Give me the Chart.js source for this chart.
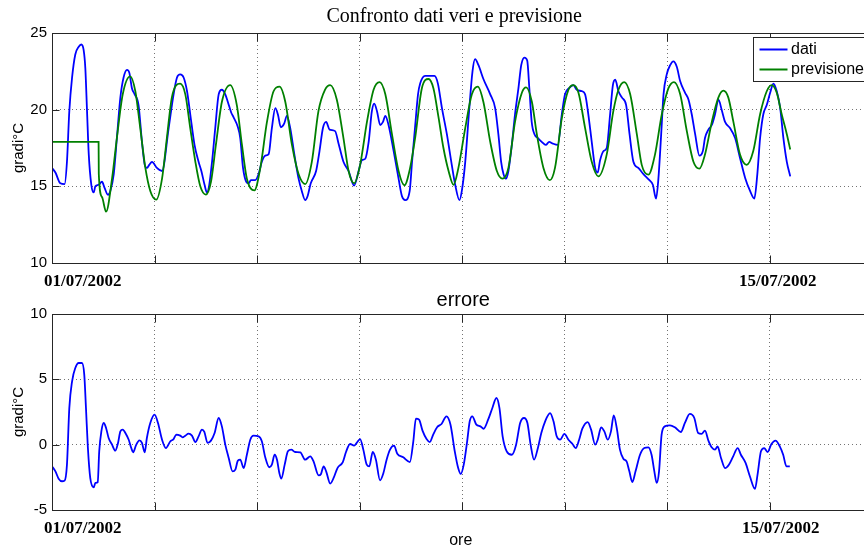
<!DOCTYPE html>
<html>
<head>
<meta charset="utf-8">
<script src="https://cdn.jsdelivr.net/npm/chart.js@4.4.1/dist/chart.umd.min.js"></script>
<style>
  body { margin: 0; width: 864px; height: 549px; overflow: hidden; background: #fff; position: relative; }
  canvas { position: absolute; left: 0; }
</style>
</head>
<body>
<canvas id="graficoTemp" width="880" height="290" style="top:0"></canvas>
<canvas id="graficoErr" width="880" height="259" style="top:290px"></canvas>
<script>
// ore dall'inizio del 01/07/2002 e temperature misurate (gradi C)
const oreDati = [0, 1.6, 3.9, 5.9, 7.0, 8.1, 9.4, 10.9, 12.5, 13.7, 14.8, 15.6, 16.4, 17.2, 18.4, 19.5, 20.3, 21.8, 23.4, 24.6,
  26.2, 27.3, 28.9, 30.4, 32.0, 33.5, 35.1, 36.2, 37.4, 38.7, 40.5, 42.1, 43.4, 44.4, 45.5, 46.8, 49.1, 51.5, 54.6, 56.9,
  58.5, 60.0, 61.6, 63.2, 64.7, 66.7, 68.6, 69.9, 71.4, 72.5, 73.6, 74.9, 76.4, 78.0, 79.5, 81.1, 82.3, 83.9, 85.0, 86.9,
  88.1, 89.4, 90.9, 92.0, 93.1, 95.1, 96.7, 98.2, 99.8, 101.4, 102.9, 104.5, 105.7, 107.1, 108.7, 109.9, 111.5, 113.4, 115.4, 116.9,
  118.5, 119.6, 121.1, 123.6, 125.2, 126.8, 128.3, 129.9, 132.5, 134.1, 136.4, 138.8, 141.4, 143.5, 145.0, 146.6, 148.2, 149.7, 150.8, 152.1,
  153.6, 154.9, 156.0, 157.5, 159.9, 162.2, 163.8, 165.3, 167.4, 168.5, 170.0, 171.3, 172.3, 174.6, 179.0, 180.6, 182.5, 184.8, 187.1, 188.7,
  190.7, 191.8, 193.4, 195.2, 196.8, 198.0, 199.6, 201.9, 205.1, 207.4, 208.9, 210.2, 211.3, 212.4, 213.6, 215.2, 216.7, 218.3, 219.6, 221.1,
  222.4, 223.4, 224.5, 225.8, 227.4, 229.2, 231.1, 232.7, 234.2, 236.7, 238.6, 240.1, 242.0, 244.0, 245.6, 248.0, 249.5, 251.0, 252.6, 254.2,
  255.4, 256.5, 258.1, 259.6, 261.2, 262.5, 263.6, 265.1, 266.7, 268.7, 270.3, 272.1, 274.4, 276.8, 279.6, 281.2, 282.7, 283.8, 285.1, 286.2,
  287.7, 289.3, 290.8, 292.4, 294.0, 296.3, 297.9, 299.4, 301.0, 303.0, 304.6, 305.6, 307.2, 308.8, 310.3, 311.9, 313.4, 315.0, 317.3, 319.7,
  322.0, 324.4, 326.7, 328.7, 330.1, 331.4, 332.9, 334.5, 336.1, 337.6, 339.2, 340.8, 342.3, 343.9, 345.5];
const dati = [16.2, 15.9, 15.2, 15.15, 16.6, 19.9, 22.1, 23.6, 24.1, 24.25, 23.9, 22.7, 19.9, 17.1, 15.1, 14.6, 15.0, 15.1, 15.3, 14.9,
  14.45, 14.7, 15.8, 18.2, 20.8, 22.1, 22.6, 22.4, 21.4, 21.0, 20.3, 17.9, 16.4, 16.2, 16.4, 16.6, 16.2, 16.0, 18.8, 21.0,
  22.1, 22.3, 22.1, 21.2, 19.7, 17.7, 16.6, 16.0, 15.1, 14.6, 15.1, 16.6, 18.8, 21.0, 21.3, 21.0, 20.5, 19.8, 19.5, 18.9,
  18.15, 16.2, 15.3, 15.2, 15.4, 15.4, 15.8, 16.6, 17.0, 17.1, 18.8, 20.1, 19.7, 18.85, 19.1, 19.6, 18.8, 17.1, 15.5, 14.7,
  14.1, 14.35, 15.2, 16.0, 17.3, 18.8, 19.2, 18.7, 18.6, 17.8, 16.6, 16.0, 15.05, 16.0, 16.7, 16.8, 17.9, 19.9, 20.4, 19.9,
  19.0, 19.2, 19.6, 19.0, 17.3, 15.5, 14.35, 14.1, 14.7, 16.6, 19.0, 21.0, 21.7, 22.2, 22.2, 21.7, 20.1, 18.4, 16.4, 15.1,
  14.1, 14.7, 16.6, 19.9, 22.5, 23.3, 22.9, 22.0, 21.0, 20.1, 18.4, 16.6, 15.8, 15.5, 16.0, 17.7, 19.7, 21.4, 22.9, 23.4,
  23.2, 21.4, 19.2, 18.4, 18.15, 17.9, 17.7, 17.9, 17.8, 17.7, 19.7, 21.0, 21.4, 21.6, 21.3, 21.2, 21.0, 19.7, 17.9, 16.2,
  15.9, 16.7, 17.3, 17.5, 19.7, 21.6, 21.95, 21.2, 20.8, 20.3, 18.4, 16.6, 16.2, 15.8, 15.4, 15.1, 14.2, 15.5, 18.4, 21.0,
  22.3, 22.9, 23.15, 22.8, 21.85, 21.1, 20.65, 19.7, 18.4, 17.0, 17.3, 18.15, 18.7, 19.0, 19.7, 20.65, 20.0, 19.2, 18.8, 18.15,
  16.85, 15.55, 14.7, 14.2, 15.8, 18.15, 19.7, 20.3, 21.1, 21.7, 21.2, 20.1, 18.15, 16.6, 15.65];

// previsione del modello
const orePrev = [0, 21.8, 21.9, 23.4, 25.3, 28.1, 30.4, 33.1, 36.6, 39.0, 41.3, 43.7, 46.0, 48.8, 51.5, 53.8, 56.1, 60.0, 62.4, 64.7,
  67.1, 69.4, 72.0, 74.4, 76.7, 79.5, 83.4, 86.5, 88.9, 91.2, 94.7, 97.5, 100.6, 103.7, 106.5, 109.2, 112.3, 115.4, 118.5, 121.6,
  124.7, 127.8, 130.2, 133.3, 136.4, 138.8, 141.4, 144.2, 147.4, 150.5, 153.3, 156.0, 159.1, 162.2, 164.9, 167.6, 170.0, 173.1, 176.2, 178.5,
  180.9, 183.2, 185.6, 187.9, 190.2, 193.4, 196.5, 199.3, 201.9, 205.1, 208.2, 210.8, 213.6, 216.7, 219.9, 221.9, 224.6, 226.9, 230.0, 233.0,
  235.4, 238.6, 241.7, 244.0, 246.4, 249.5, 252.6, 255.7, 259.6, 262.7, 265.1, 267.8, 270.6, 273.7, 276.0, 279.1, 282.2, 285.4, 288.5, 291.1,
  294.0, 297.1, 300.2, 303.0, 305.6, 308.8, 311.9, 314.2, 316.5, 318.9, 322.0, 325.1, 328.2, 331.4, 334.5, 336.8, 339.2, 341.5, 343.9, 345.5];
const previsione = [17.9, 17.9, 15.8, 14.3, 13.35, 15.5, 18.2, 21.0, 22.17, 21.2, 18.8, 16.2, 14.7, 14.13, 15.5, 18.2, 20.8, 21.7, 21.0, 18.8,
  16.6, 15.0, 14.46, 15.3, 17.7, 20.5, 21.6, 20.3, 17.7, 15.5, 14.74, 16.2, 19.2, 21.2, 21.5, 20.5, 17.7, 15.8, 15.15, 16.6,
  19.9, 21.3, 21.6, 20.65, 18.15, 16.0, 15.2, 16.4, 19.2, 21.3, 21.8, 21.0, 18.4, 16.0, 15.07, 16.2, 18.2, 21.4, 22.0, 21.4,
  19.5, 17.5, 16.0, 15.1, 16.2, 18.8, 21.0, 21.5, 20.5, 17.9, 16.0, 15.5, 16.2, 19.2, 21.1, 21.45, 20.5, 18.4, 16.2, 15.4,
  16.2, 19.45, 21.3, 21.6, 21.1, 18.8, 16.6, 15.65, 17.07, 19.9, 21.3, 21.8, 21.0, 18.4, 16.4, 15.76, 17.07, 19.7, 21.4, 21.8,
  21.0, 18.6, 16.6, 16.15, 17.07, 19.2, 20.8, 21.24, 20.8, 19.2, 17.07, 16.4, 17.3, 19.7, 21.2, 21.6, 21.1, 19.7, 18.4, 17.4];

// errore = dati - previsione
const oreErr = [0, 1.6, 3.1, 4.7, 5.9, 7.0, 8.1, 9.4, 10.9, 12.5, 14.0, 15.1, 15.9, 16.8, 17.9, 19.5, 20.3, 21.4, 22.1, 23.1,
  24.2, 25.3, 26.5, 28.1, 29.6, 30.9, 32.0, 33.1, 34.6, 35.9, 37.1, 38.0, 39.3, 40.9, 42.1, 43.4, 44.4, 46.0, 48.0, 49.6,
  51.5, 53.3, 55.4, 56.9, 58.2, 60.0, 61.1, 62.4, 63.9, 65.5, 67.1, 68.6, 70.2, 71.3, 72.8, 74.4, 76.1, 78.0, 79.5, 81.1,
  82.7, 84.5, 85.8, 87.0, 88.1, 89.7, 91.2, 92.8, 94.3, 96.7, 98.2, 99.8, 101.7, 102.9, 104.2, 105.3, 106.4, 107.3, 108.9, 110.4,
  112.0, 113.8, 116.2, 118.5, 120.9, 122.4, 124.8, 125.9, 127.1, 128.3, 130.2, 131.8, 133.6, 136.1, 137.6, 139.5, 141.4, 142.6, 144.2, 145.7,
  147.3, 148.5, 150.1, 151.6, 153.5, 155.1, 156.6, 158.2, 160.1, 161.6, 164.4, 167.5, 169.1, 170.3, 171.8, 173.4, 175.3, 176.8, 178.4, 180.3,
  182.3, 184.6, 186.5, 188.5, 190.1, 191.3, 192.7, 194.3, 195.5, 196.7, 198.6, 200.5, 202.0, 204.1, 206.1, 208.0, 209.4, 210.9, 212.8, 215.2,
  217.2, 219.1, 220.9, 222.5, 224.0, 225.6, 227.4, 229.0, 230.8, 233.1, 234.7, 236.2, 237.8, 239.8, 241.7, 243.6, 245.1, 246.7, 248.2, 250.7,
  252.3, 254.2, 255.4, 257.0, 258.5, 260.1, 261.6, 262.9, 264.3, 265.8, 267.4, 268.9, 270.2, 271.6, 273.1, 275.2, 277.2, 279.1, 280.6, 281.9,
  283.0, 284.1, 285.3, 286.8, 289.2, 291.5, 294.3, 296.2, 298.5, 300.6, 302.4, 304.0, 305.6, 307.2, 308.7, 310.3, 311.5, 313.1, 315.0, 316.8,
  318.8, 320.9, 322.4, 324.6, 326.6, 329.0, 330.2, 331.8, 333.3, 334.9, 336.7, 338.6, 340.6, 342.2, 343.7, 345.3];
const errore = [-1.66, -2.04, -2.6, -2.8, -2.75, -1.53, 2.8, 4.85, 5.87, 6.25, 6.25, 5.36, 2.8, -0.26, -2.55, -3.27, -2.93, -2.88, -0.51, 1.02,
  1.66, 1.28, 0.51, 0.0, -0.46, 0.13, 1.02, 1.15, 0.82, 0.38, -0.26, -0.59, -0.05, 0.33, 0.13, -0.59, 0.51, 1.66, 2.3, 1.66,
  0.38, -0.26, 0.26, 0.43, 0.77, 0.69, 0.56, 0.69, 0.84, 0.69, 0.2, 0.64, 1.15, 0.97, 0.13, 0.31, 0.89, 2.04, 1.4, 0.0,
  -1.02, -2.04, -1.91, -1.22, -1.15, -1.79, -0.77, 0.38, 0.69, 0.64, 0.26, -0.97, -1.73, -1.53, -0.77, -1.15, -2.17, -2.6, -1.53, -0.51,
  -0.38, -0.56, -0.59, -1.15, -0.89, -1.28, -2.35, -2.24, -1.66, -2.04, -2.98, -2.55, -1.79, -1.33, -0.56, 0.05, -0.08, 0.13, 0.43, -0.38,
  -1.53, -1.66, -0.56, -1.15, -2.73, -2.17, -1.15, -0.38, -0.08, -0.69, -0.97, -1.33, 0.26, 1.99, 1.91, 1.07, 0.43, 0.2, 0.77, 1.35,
  1.58, 2.17, 1.53, -0.51, -1.79, -2.24, -1.53, 0.26, 1.79, 2.17, 1.53, 1.4, 1.22, 1.91, 2.81, 3.57, 2.81, 0.64, -0.51, -0.77,
  0.0, 1.66, 2.04, 1.66, 0.0, -1.15, -0.26, 0.89, 1.79, 2.42, 1.79, 0.64, 0.38, 0.82, 0.38, 0.05, -0.26, 0.38, 1.22, 1.73,
  1.15, 0.0, 0.38, 1.33, 1.02, 0.38, 1.02, 2.24, 1.28, -0.38, -1.07, -1.28, -2.04, -2.86, -2.04, -0.77, -0.26, -0.2, -0.77, -2.04,
  -2.93, -2.04, 0.77, 1.4, 1.48, 1.33, 0.97, 1.66, 2.35, 2.04, 0.89, 0.82, 1.07, 0.31, -0.2, -0.38, -0.13, -1.02, -1.79, -1.53,
  -0.89, -0.26, -0.77, -1.4, -2.42, -3.39, -2.3, -0.51, -0.26, -0.56, 0.05, 0.31, -0.13, -0.77, -1.66, -1.66];

// asse dei tempi: tacche ogni 2 giorni, etichette solo su alcuni giorni
const giorniEtichette = [0, 14];
const etichetteDate = ['01/07/2002', '15/07/2002'];

const SANS = '"Liberation Sans", Arial, sans-serif';
const SERIF = '"Liberation Serif", "Times New Roman", serif';

const punti = (xs, ys) => xs.map((h, i) => ({ x: h, y: ys[i] }));

// riquadro stile matlab con tacche interne
const cornice = {
  id: 'cornice',
  afterDatasetsDraw(chart) {
    const { ctx, chartArea: a, scales: { x, y } } = chart;
    const l = Math.round(a.left) + 0.5, r = Math.round(a.right) + 0.5;
    const t = Math.round(a.top) + 0.5, b = Math.round(a.bottom) + 0.5;
    ctx.save();
    ctx.strokeStyle = '#262626';
    ctx.lineWidth = 1;
    ctx.strokeRect(l, t, r - l, b - t);
    ctx.beginPath();
    x.ticks.forEach(tk => {
      const px = Math.round(x.getPixelForValue(tk.value)) + 0.5;
      ctx.moveTo(px, b); ctx.lineTo(px, b - 8);
      ctx.moveTo(px, t); ctx.lineTo(px, t + 8);
    });
    y.ticks.forEach(tk => {
      const py = Math.round(y.getPixelForValue(tk.value)) + 0.5;
      ctx.moveTo(l, py); ctx.lineTo(l + 7, py);
      ctx.moveTo(r, py); ctx.lineTo(r - 7, py);
    });
    ctx.stroke();
    ctx.restore();
  }
};

// titoli, etichette degli assi e date
const testi = {
  id: 'testi',
  afterDraw(chart, args, o) {
    const { ctx, chartArea: a, scales: { x } } = chart;
    const cx = (a.left + a.right) / 2;
    ctx.save();
    ctx.fillStyle = '#000';
    ctx.textBaseline = 'alphabetic';
    ctx.textAlign = 'center';
    ctx.font = o.fontTitolo;
    ctx.fillText(o.titolo, cx + o.dxTitolo, o.yTitolo);
    if (o.asseX) {
      ctx.font = '16px ' + SANS;
      ctx.fillText(o.asseX, cx + o.dxAsseX, o.yAsseX);
    }
    ctx.font = 'bold 17px ' + SERIF;
    ctx.textAlign = 'left';
    giorniEtichette.forEach((g, i) => {
      ctx.fillText(etichetteDate[i], x.getPixelForValue(g * 24) + o.dxDate[i], o.yDate);
    });
    ctx.translate(23, (a.top + a.bottom) / 2);
    ctx.rotate(-Math.PI / 2);
    ctx.textAlign = 'center';
    ctx.font = '15px ' + SANS;
    ctx.fillText('gradi°C', 0, 0);
    ctx.restore();
  }
};

// legenda in alto a destra, dentro gli assi
const legenda = {
  id: 'legenda',
  afterDraw(chart) {
    const { ctx, chartArea: a } = chart;
    const l = Math.round(a.right - 120) + 0.5, t = Math.round(a.top + 4) + 0.5;
    ctx.save();
    ctx.fillStyle = '#fff';
    ctx.fillRect(l, t, 116, 44);
    ctx.strokeStyle = '#262626';
    ctx.lineWidth = 1;
    ctx.strokeRect(l, t, 116, 44);
    ctx.font = '16px ' + SANS;
    ctx.textBaseline = 'middle';
    chart.data.datasets.forEach((ds, i) => {
      const yy = t + 12 + i * 20;
      ctx.strokeStyle = ds.borderColor;
      ctx.lineWidth = 2;
      ctx.beginPath();
      ctx.moveTo(l + 6, yy);
      ctx.lineTo(l + 34, yy);
      ctx.stroke();
      ctx.fillStyle = '#000';
      ctx.fillText(ds.label, l + 37.5, yy);
    });
    ctx.restore();
  }
};

function scale(yMin, yMax, altezzaX) {
  return {
    x: {
      type: 'linear', min: 0, max: 384,
      ticks: { stepSize: 48, display: false },
      grid: { color: 'rgba(0,0,0,0.55)', drawTicks: false },
      border: { display: false, dash: [1, 3] },
      afterFit(s) { s.height = altezzaX; }
    },
    y: {
      min: yMin, max: yMax,
      ticks: { stepSize: 5, padding: 5, color: '#000', font: { family: SANS, size: 15 } },
      grid: { color: 'rgba(0,0,0,0.55)', drawTicks: false },
      border: { display: false, dash: [1, 3] },
      afterFit(s) { s.width = 52; }
    }
  };
}

const base = {
  responsive: false,
  animation: false,
  events: [],
  elements: { point: { radius: 0 }, line: { cubicInterpolationMode: 'monotone', borderWidth: 1.8 } }
};

new Chart(document.getElementById('graficoTemp'), {
  type: 'line',
  data: {
    datasets: [
      { label: 'dati', data: punti(oreDati, dati), borderColor: '#0000ff', order: 1 },
      { label: 'previsione', data: punti(orePrev, previsione), borderColor: '#008000', order: 0 }
    ]
  },
  options: {
    ...base,
    layout: { padding: { left: 0, right: 7.5, top: 33, bottom: 0 } },
    scales: scale(10, 25, 27),
    plugins: {
      legend: { display: false },
      tooltip: { enabled: false },
      testi: {
        titolo: 'Confronto dati veri e previsione', fontTitolo: '20px ' + SERIF,
        dxTitolo: -8, yTitolo: 21.5, dxDate: [-8, -31], yDate: 285.5
      }
    }
  },
  plugins: [cornice, testi, legenda]
});

new Chart(document.getElementById('graficoErr'), {
  type: 'line',
  data: {
    datasets: [
      { label: 'errore', data: punti(oreErr, errore), borderColor: '#0000ff' }
    ]
  },
  options: {
    ...base,
    layout: { padding: { left: 0, right: 7.5, top: 24, bottom: 0 } },
    scales: scale(-5, 10, 39),
    plugins: {
      legend: { display: false },
      tooltip: { enabled: false },
      testi: {
        titolo: 'errore', fontTitolo: '20px ' + SANS, dxTitolo: 1, yTitolo: 16,
        asseX: 'ore', dxAsseX: -1.5, yAsseX: 255,
        dxDate: [-8, -28], yDate: 243.3
      }
    }
  },
  plugins: [cornice, testi]
});
</script>
</body>
</html>
